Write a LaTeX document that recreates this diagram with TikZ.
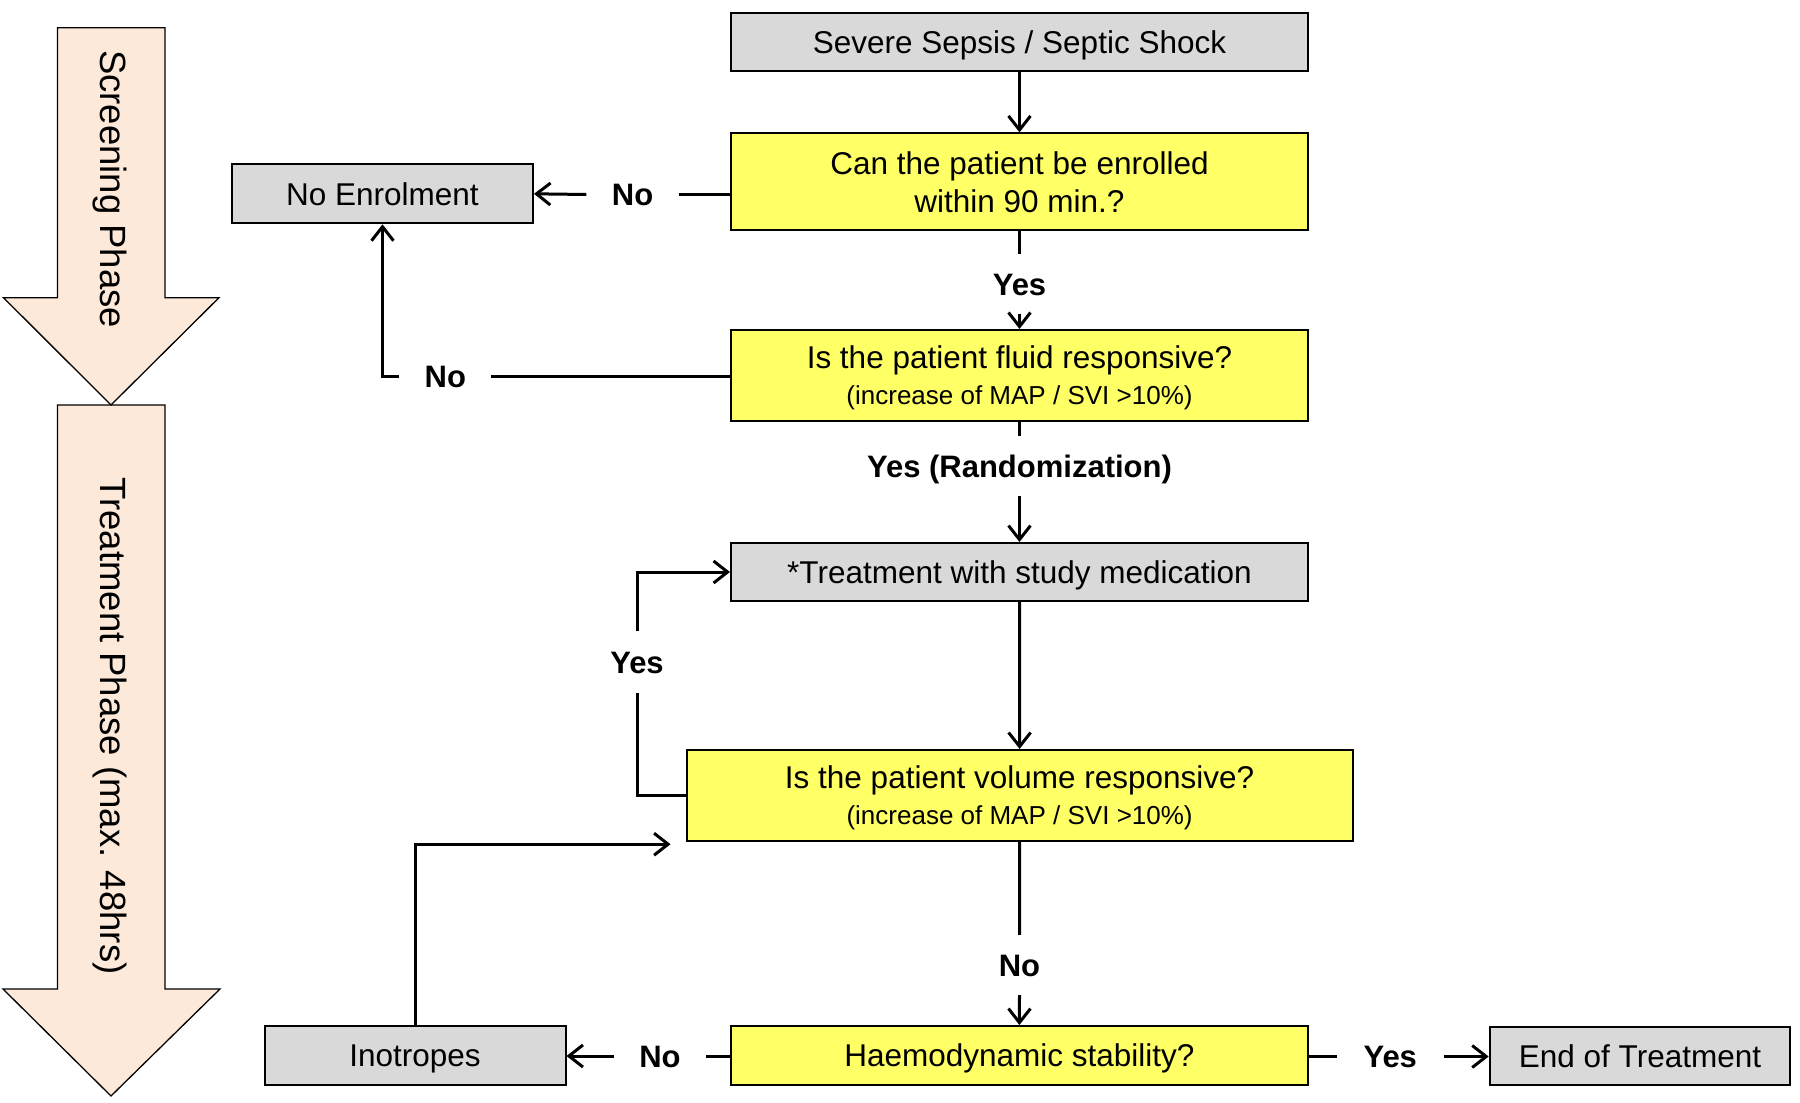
\documentclass[tikz,border=0pt]{standalone}
\usepackage{fontspec}
\setmainfont{Liberation Sans}
\usetikzlibrary{arrows.meta}
\definecolor{boxgray}{HTML}{D9D9D9}
\definecolor{boxyellow}{HTML}{FFFF66}
\definecolor{phasefill}{HTML}{FDE9D9}
\begin{document}
\begin{tikzpicture}[x=1pt,y=-1pt,
  box/.style={draw=black, line width=2pt, inner sep=0pt, text depth=0pt, align=center, font=\fontsize{31.5}{38}\selectfont},
  graybox/.style={box, fill=boxgray},
  yelbox/.style={box, fill=boxyellow},
  lbl/.style={inner sep=0pt, text height=22pt, text depth=0pt, font=\bfseries\fontsize{31}{37}\selectfont},
  conn/.style={line width=3pt},
  arr/.style={conn, -{Straight Barb[length=14pt,width=22pt]}},
  phasearrow/.style={draw=black, line width=1.3pt, fill=phasefill},
  phasetxt/.style={rotate=-90, inner sep=0pt, font=\fontsize{36.5}{40}\selectfont}]
\useasboundingbox (0,0) rectangle (1800,1103);

% phase arrows
\path[phasearrow] (57.5,405) -- (165,405) -- (165,989) -- (220,989) -- (111,1096) -- (3,989) -- (57.5,989) -- cycle;
\path[phasearrow] (57.5,27.7) -- (165,27.7) -- (165,297.7) -- (219,297.7) -- (111,405) -- (3.5,297.7) -- (57.5,297.7) -- cycle;
\node[phasetxt] (scr) at (110,189) {Screening Phase};
\node[phasetxt] (trt) at (110,726) {Treatment Phase (max. 48hrs)};

% main boxes
\node[graybox, minimum width=577pt, minimum height=58pt] (sev) at (1019.5,41.7) {Severe Sepsis / Septic Shock};
\node[yelbox, minimum width=577pt, minimum height=96.7pt] (q1) at (1019.5,181.7) {Can the patient be enrolled\\within 90 min.?};
\node[yelbox, minimum width=577pt, minimum height=90.7pt] (q2) at (1019.5,375.3) {Is the patient fluid responsive?\\[-2pt]{\fontsize{26}{30}\selectfont(increase of MAP / SVI >10\%)}};
\node[graybox, minimum width=577pt, minimum height=58pt] (treat) at (1019.5,572) {*Treatment with study medication};
\node[yelbox, minimum width=666pt, minimum height=90.7pt] (q3) at (1019.6,795.3) {Is the patient volume responsive?\\[-2pt]{\fontsize{26}{30}\selectfont(increase of MAP / SVI >10\%)}};
\node[yelbox, minimum width=577pt, minimum height=59pt] (haem) at (1019.4,1055.5) {Haemodynamic stability?};
\node[graybox, minimum width=301pt, minimum height=59pt] (noenr) at (382.5,193.8) {No Enrolment};
\node[graybox, minimum width=301pt, minimum height=58.6pt] (inotr) at (415,1055.3) {Inotropes};
\node[graybox, minimum width=300.7pt, minimum height=58.3pt] (endt) at (1640,1055.8) {End of Treatment};

% connectors
\draw[arr] (sev.south) -- (q1.north);

\node[lbl, minimum width=92pt] (lno1) at (632.6,194.5) {No};
\draw[conn] (q1.west |- lno1) -- (lno1.east);
\draw[arr] (lno1.west) -- (noenr.east);

\node[lbl, minimum width=91.5pt] (lno2) at (445.3,376) {No};
\draw[conn] (q2.west |- lno2) -- (lno2.east);
\draw[arr] (lno2.west) -| (noenr.south);

\node[lbl, minimum height=58.7pt] (lyes1) at (1019.5,284) {Yes};
\draw[conn] (q1.south) -- (lyes1.north);
\draw[arr] (lyes1.south) -- (q2.north);

\node[lbl, minimum height=60pt] (lyesr) at (1019.5,466) {Yes (Randomization)};
\draw[conn] (q2.south) -- (lyesr.north);
\draw[arr] (lyesr.south) -- (treat.north);

\draw[arr] (treat.south) -- (q3.north);

\node[lbl, minimum height=60.7pt] (lyes3) at (637,662) {Yes};
\draw[conn] (q3.west) -| (lyes3.south);
\draw[arr] (lyes3.north) |- (treat.west);

\node[lbl, minimum height=60pt] (lno3) at (1019.5,965) {No};
\draw[conn] (q3.south) -- (lno3.north);
\draw[arr] (lno3.south) -- (haem.north);

\node[lbl, minimum width=92pt] (lno4) at (660,1056) {No};
\draw[conn] (haem.west |- lno4) -- (lno4.east);
\draw[arr] (lno4.west) -- (inotr.east |- lno4);

\node[lbl, minimum width=106.5pt] (lyes4) at (1390.25,1056.5) {Yes};
\draw[conn] (haem.east |- lyes4) -- (lyes4.west);
\draw[arr] (lyes4.east) -- (endt.west |- lyes4);

\coordinate (inoT) at (670.5,844.2);
\draw[arr] (inotr.north) |- (inoT);
\end{tikzpicture}
\end{document}
